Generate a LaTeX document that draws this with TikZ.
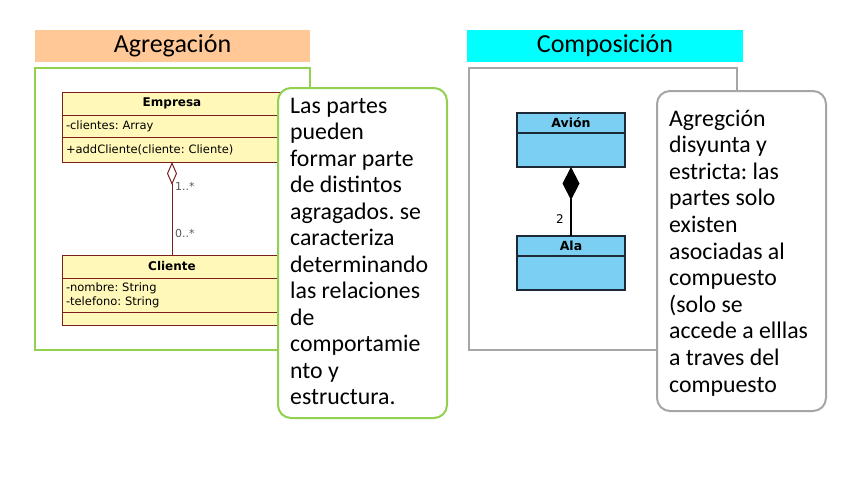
\documentclass[tikz,border=0pt]{standalone}
\usepackage{fontspec}
\setmainfont{Carlito}
\newfontfamily\umlfont{DejaVu Sans}
\usetikzlibrary{positioning,arrows.meta}
\definecolor{titleorange}{HTML}{FFC896}
\definecolor{titlecyan}{HTML}{00FFFF}
\definecolor{framegreen}{HTML}{92D050}
\definecolor{framegray}{HTML}{A6A6A6}
\definecolor{umlyellow}{HTML}{FFF8B8}
\definecolor{umlbrown}{HTML}{7A1E1E}
\definecolor{umlblue}{HTML}{7ACFF2}
\definecolor{umldark}{HTML}{1C2A38}
\frenchspacing
\begin{document}
\begin{tikzpicture}[x=1pt,y=-1pt,node distance=0pt]
    \tikzstyle{title}=[minimum width=275pt,minimum height=32pt,inner sep=0pt,font=\fontsize{26}{30}\selectfont]
    \tikzstyle{frame}=[line width=2pt]
    \tikzstyle{note}=[draw,fill=white,line width=2pt,rounded corners=13pt]
    \tikzstyle{notetext}=[anchor=base west,inner sep=0pt,font=\fontsize{23.8}{28}\selectfont]
    \tikzstyle{yclass}=[draw=umlbrown,fill=umlyellow,line width=0.8pt,minimum width=220pt,inner sep=0pt,outer sep=0pt,font=\umlfont\fontsize{11.5}{14}\selectfont]
    \tikzstyle{bclass}=[draw=umldark,fill=umlblue,line width=1.2pt,minimum width=108pt,inner sep=0pt,outer sep=0pt,font=\umlfont\bfseries\fontsize{12.5}{14}\selectfont]
    \tikzstyle{mult}=[anchor=west,inner sep=0pt,text=black!65,font=\umlfont\fontsize{11}{12}\selectfont]
    \useasboundingbox (0,0) rectangle (856,479);

    % titles
    \node[title,fill=titleorange] (T-agr) at (172.5,46) {Agregación};
    \node[title,fill=titlecyan,minimum width=276pt] (T-com) at (605,46) {Composición};

    % frames
    \draw[frame,draw=framegreen] (35,68) rectangle (310,350);
    \draw[frame,draw=framegray,line width=1.5pt] (469,68) rectangle (737,350);

    % Empresa and Cliente
    \node[yclass,anchor=north west,minimum height=23pt,font=\umlfont\bfseries\fontsize{12}{14}\selectfont] (E-head) at (62,92) {Empresa};
    \node[yclass,below=of E-head,minimum height=22pt,text width=212pt,align=left] (E-attr) {-clientes: Array};
    \node[yclass,below=of E-attr,minimum height=25pt,text width=212pt,align=left] (E-op) {+addCliente(cliente: Cliente)};
    \node[yclass,anchor=north west,minimum height=23pt,font=\umlfont\bfseries\fontsize{12}{14}\selectfont] (C-head) at (62,255) {Cliente};
    \node[yclass,below=of C-head,minimum height=34pt,text width=212pt,align=left] (C-attr) {-nombre: String\\-telefono: String};
    \node[yclass,below=of C-attr,minimum height=13pt] (C-op) {};

    % aggregation link
    \draw[draw=umlbrown,line width=1pt,{Diamond[open,length=23pt,width=10pt]}-] (E-op.south) -- (C-head.north);
    \node[mult] (M-1) at (175,186) {1..*};
    \node[mult] (M-2) at (175,233) {0..*};

    % Avion and Ala
    \node[bclass,anchor=north west,minimum height=20pt] (A-head) at (517,113) {Avión};
    \node[bclass,below=of A-head,minimum height=34pt] (A-body) {};
    \node[bclass,anchor=north west,minimum height=20pt] (W-head) at (517,236) {Ala};
    \node[bclass,below=of W-head,minimum height=34pt] (W-body) {};

    % composition link
    \draw[line width=1.2pt,{Diamond[length=33pt,width=17pt]}-] (A-body.south) -- (W-head.north);
    \node[mult,text=black,font=\umlfont\fontsize{12}{14}\selectfont] (M-3) at (556,219) {2};

    % notes
    \node[note,draw=framegreen,anchor=north west,minimum width=169pt,minimum height=330pt] (N-agr) at (277,87) {};
    \foreach \t [count=\i from 0] in {Las partes,pueden,formar parte,de distintos,agragados. se,caracteriza,determinando,las relaciones,de,comportamie,nto y,estructura.}
    \node[notetext] (L-\i) at (290,113+26.5*\i) {\t};

    \node[note,draw=framegray,anchor=north west,minimum width=169pt,minimum height=320pt] (N-com) at (656,90) {};
    \foreach \t [count=\i from 0] in {Agregción,disyunta y,estricta: las,partes solo,existen,asociadas al,compuesto,{(solo se},accede a elllas,a traves del,compuesto}
    \node[notetext] (R-\i) at (669,126+26.6*\i) {\t};
\end{tikzpicture}
\end{document}
